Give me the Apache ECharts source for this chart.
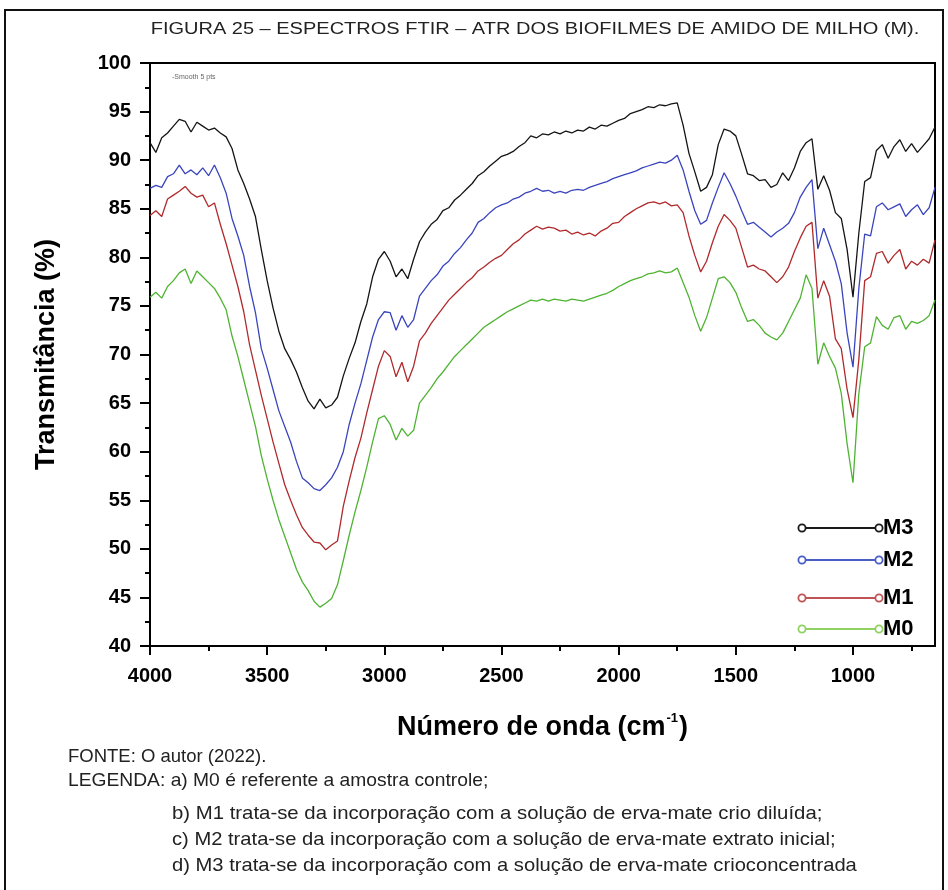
<!DOCTYPE html>
<html>
<head>
<meta charset="utf-8">
<script src="https://cdn.jsdelivr.net/npm/echarts@6/dist/echarts.min.js"></script>
<style>
  html, body { margin: 0; padding: 0; background: #fff; }
  #chart { width: 948px; height: 890px; }
</style>
</head>
<body>
<div id="chart"></div>
<script>
// FTIR-ATR spectra of corn-starch biofilms (transmittance, %)
const wavenumbers = [
  4000,3975,3950,3925,3900,3875,3850,3825,3800,3775,
  3750,3725,3700,3675,3650,3625,3600,3575,3550,3525,
  3500,3475,3450,3425,3400,3375,3350,3325,3300,3275,
  3250,3225,3200,3175,3150,3125,3100,3075,3050,3025,
  3000,2975,2950,2925,2900,2875,2850,2825,2800,2775,
  2750,2725,2700,2675,2650,2625,2600,2575,2550,2525,
  2500,2475,2450,2425,2400,2375,2350,2325,2300,2275,
  2250,2225,2200,2175,2150,2125,2100,2075,2050,2025,
  2000,1975,1950,1925,1900,1875,1850,1825,1800,1775,
  1750,1725,1700,1675,1650,1625,1600,1575,1550,1525,
  1500,1475,1450,1425,1400,1375,1350,1325,1300,1275,
  1250,1225,1200,1175,1150,1125,1100,1075,1050,1025,
  1000,975,950,925,900,875,850,825,800,775,
  750,725,700,675,650
];

const m3 = [
  91.8,90.8,92.3,92.8,93.5,94.2,94.0,92.9,93.9,93.5,
  93.1,93.3,92.8,92.4,91.2,89.0,87.6,86.0,84.2,80.8,
  77.6,74.8,72.4,70.6,69.5,68.2,66.6,65.2,64.4,65.4,
  64.5,64.8,65.6,67.8,69.6,71.2,73.4,75.2,78.0,79.8,
  80.6,79.6,78.0,78.8,77.8,79.8,81.6,82.6,83.4,83.9,
  84.8,85.1,85.9,86.4,87.0,87.6,88.4,88.8,89.4,89.9,
  90.4,90.6,90.9,91.4,91.8,92.5,92.3,92.7,92.6,92.9,
  92.7,93.0,92.8,93.1,93.0,93.4,93.2,93.6,93.5,93.8,
  94.1,94.3,94.8,95.0,95.2,95.5,95.4,95.7,95.6,95.8,
  95.9,93.6,90.7,88.8,86.8,87.2,88.5,91.6,93.2,93.0,
  92.5,90.6,88.6,88.4,87.9,88.0,87.2,87.5,88.7,87.9,
  89.2,90.9,91.8,92.2,87.0,88.4,86.9,84.6,84.0,80.8,
  75.9,82.5,87.8,88.2,91.0,91.6,90.2,91.4,92.1,90.9,
  91.7,90.8,91.5,92.2,93.4
];

const m2 = [
  87.1,87.4,87.2,88.3,88.6,89.5,88.6,89.0,88.5,89.2,
  88.4,89.5,88.2,86.6,84.0,82.2,80.2,77.0,74.3,70.6,
  68.6,66.4,64.2,62.6,61.0,59.0,57.3,56.8,56.2,56.0,
  56.6,57.3,58.4,60.0,62.8,65.0,67.0,69.4,71.8,73.6,
  74.4,74.3,72.5,74.0,72.8,73.6,76.0,76.8,77.6,78.2,
  79.1,79.6,80.4,81.0,81.8,82.5,83.6,84.0,84.6,85.1,
  85.4,85.6,86.0,86.2,86.6,86.8,87.1,86.8,86.9,86.6,
  86.8,86.6,86.9,87.0,86.9,87.2,87.4,87.6,87.8,88.1,
  88.3,88.5,88.7,88.9,89.2,89.4,89.6,89.8,89.7,90.0,
  90.5,89.0,86.8,84.8,83.4,83.8,85.6,87.2,88.7,87.6,
  86.3,84.8,83.4,83.6,83.1,82.6,82.1,82.6,83.0,83.5,
  84.6,86.2,87.2,88.0,80.9,83.0,81.3,79.6,77.3,72.2,
  68.7,76.8,82.4,82.2,85.2,85.6,84.9,85.2,85.5,84.2,
  84.9,85.4,84.4,85.1,87.2
];

const m1 = [
  84.3,84.8,84.2,86.0,86.4,86.8,87.3,86.6,86.2,86.4,
  85.2,85.6,83.4,81.4,79.2,77.0,74.4,71.0,68.4,65.8,
  63.4,61.0,58.8,56.6,55.0,53.5,52.2,51.4,50.7,50.6,
  49.9,50.4,50.8,54.4,57.0,59.4,61.4,64.0,66.4,68.8,
  70.4,69.8,67.7,69.2,67.2,68.8,71.4,72.2,73.2,74.0,
  74.8,75.6,76.2,76.8,77.4,77.9,78.6,79.0,79.5,79.9,
  80.2,80.8,81.4,81.8,82.4,82.8,83.2,82.9,83.1,83.0,
  82.7,82.8,82.4,82.6,82.3,82.5,82.2,82.7,83.0,83.5,
  83.6,84.2,84.6,85.0,85.3,85.6,85.7,85.5,85.7,85.3,
  85.4,84.6,82.2,80.2,78.5,79.6,81.5,83.2,84.4,83.8,
  83.0,81.0,79.0,79.2,78.8,78.6,78.0,77.4,78.0,79.0,
  80.6,82.0,83.2,83.6,75.8,77.6,76.0,71.6,70.6,66.4,
  63.5,69.5,77.6,78.0,80.4,80.6,79.4,80.2,80.8,78.8,
  79.6,79.2,79.8,79.4,81.8
];

const m0 = [
  75.9,76.4,75.8,77.0,77.6,78.4,78.8,77.3,78.6,78.0,
  77.4,76.8,75.8,74.6,71.9,69.8,67.4,65.0,62.6,59.6,
  57.2,55.0,53.0,51.3,49.6,47.9,46.6,45.7,44.6,44.0,
  44.4,44.9,46.3,48.8,51.4,53.8,56.0,58.4,61.0,63.4,
  63.7,62.8,61.2,62.4,61.6,62.2,65.0,65.8,66.6,67.5,
  68.2,69.0,69.8,70.4,71.0,71.6,72.2,72.8,73.2,73.6,
  74.0,74.4,74.7,75.0,75.3,75.6,75.5,75.7,75.5,75.7,
  75.6,75.5,75.7,75.6,75.5,75.7,75.9,76.1,76.3,76.6,
  77.0,77.3,77.6,77.8,78.0,78.3,78.4,78.6,78.4,78.5,
  78.9,77.4,75.9,74.0,72.4,73.8,75.8,77.8,78.0,77.4,
  76.4,74.8,73.4,73.6,73.0,72.2,71.8,71.5,72.2,73.4,
  74.6,75.8,78.2,76.8,69.0,71.2,69.8,68.6,66.0,60.8,
  56.8,66.0,70.8,71.2,73.9,73.0,72.6,73.8,74.0,72.6,
  73.4,73.2,73.5,74.0,75.6
];

const seriesNames = ['M3', 'M2', 'M1', 'M0'];
const seriesValues = [m3, m2, m1, m0];
const seriesColors = ['#141414', '#3a45bd', '#b02a2c', '#4fb332'];
const legendColors = ['#1a1a1a', '#4a5ec8', '#c05454', '#8fd262'];

const xMajorTicks = [4000, 3500, 3000, 2500, 2000, 1500, 1000];
const xMinorTicks = [3750, 3250, 2750, 2250, 1750, 1250, 750];

const titleText = 'FIGURA 25 – ESPECTROS FTIR – ATR DOS BIOFILMES DE AMIDO DE MILHO (M).';
const noteLines = [
  'FONTE: O autor (2022).',
  'LEGENDA: a) M0 é referente a amostra controle;',
  'b) M1 trata-se da incorporação com a solução de erva-mate crio diluída;',
  'c) M2 trata-se da incorporação com a solução de erva-mate extrato inicial;',
  'd) M3 trata-se da incorporação com a solução de erva-mate crioconcentrada'
];

const FONT = '"Liberation Sans", Arial, Helvetica, sans-serif';

const chart = echarts.init(document.getElementById('chart'), null, { renderer: 'canvas' });

const series = seriesNames.map((name, i) => ({
  name: name,
  type: 'line',
  xAxisIndex: 0,
  yAxisIndex: 0,
  data: wavenumbers.map((w, k) => [w, seriesValues[i][k]]),
  showSymbol: false,
  symbol: 'none',
  smooth: false,
  silent: true,
  z: 10 - i,
  lineStyle: { color: seriesColors[i], width: 1.3 },
  itemStyle: { color: seriesColors[i] }
}));

// Legend block: a line with hollow circles at both ends, then the label
const legendRows = [528, 560, 598, 629];
const legendGraphics = [];
seriesNames.forEach((name, i) => {
  const y = legendRows[i];
  const c = legendColors[i];
  legendGraphics.push(
    { type: 'line', silent: true, z: 50,
      shape: { x1: 802, y1: y, x2: 879, y2: y },
      style: { stroke: c, lineWidth: 1.8 } },
    { type: 'circle', silent: true, z: 51,
      shape: { cx: 802, cy: y, r: 3.6 },
      style: { fill: '#fff', stroke: c, lineWidth: 1.8 } },
    { type: 'circle', silent: true, z: 51,
      shape: { cx: 879, cy: y, r: 3.6 },
      style: { fill: '#fff', stroke: c, lineWidth: 1.8 } },
    { type: 'text', silent: true, z: 51, x: 883, y: y,
      style: { text: name, fill: '#000', font: 'bold 22px ' + FONT,
               textAlign: 'left', textVerticalAlign: 'middle' } }
  );
});

// Caption lines below the plot (slightly widened type, as in the printed figure)
const noteX = [68, 68, 172, 172, 172];
const noteY = [757, 781, 814, 840, 866];
const noteStretch = [1.0, 1.04, 1.1, 1.09, 1.09];
const noteGraphics = noteLines.map((t, i) => ({
  type: 'text', silent: true,
  x: noteX[i], y: noteY[i], scaleX: noteStretch[i],
  style: { text: t, fill: '#222', font: '18.5px ' + FONT,
           textAlign: 'left', textVerticalAlign: 'middle' }
}));

const option = {
  backgroundColor: '#fff',
  animation: false,
  grid: {
    left: 150, right: 13, top: 63, bottom: 244,
    show: true, borderColor: '#000', borderWidth: 2, backgroundColor: 'transparent'
  },
  xAxis: [
    {
      type: 'value', min: 650, max: 4000, inverse: true, position: 'bottom',
      axisLine: { show: true, onZero: false, lineStyle: { color: '#000', width: 2 } },
      axisTick: { show: true, inside: false, length: 9, customValues: xMajorTicks,
                  lineStyle: { color: '#000', width: 2 } },
      axisLabel: { show: true, customValues: xMajorTicks, margin: 20,
                   formatter: (v) => String(v),
                   color: '#000', fontFamily: FONT, fontWeight: 'bold', fontSize: 20 },
      splitLine: { show: false },
      name: '{a|Número de onda (cm}{s|-1}{a|)}',
      nameLocation: 'middle',
      nameGap: 66,
      nameTextStyle: {
        rich: {
          a: { fontFamily: FONT, fontWeight: 'bold', fontSize: 27, color: '#000', lineHeight: 32 },
          s: { fontFamily: FONT, fontWeight: 'bold', fontSize: 13, color: '#000',
               lineHeight: 32, verticalAlign: 'top', padding: [0, 1, 0, 1] }
        }
      }
    },
    {
      type: 'value', min: 650, max: 4000, inverse: true, position: 'bottom',
      axisLine: { show: false, onZero: false },
      axisTick: { show: true, inside: false, length: 5, customValues: xMinorTicks,
                  lineStyle: { color: '#000', width: 2 } },
      axisLabel: { show: false },
      splitLine: { show: false }
    }
  ],
  yAxis: {
    type: 'value', min: 40, max: 100, interval: 5,
    axisLine: { show: true, onZero: false, lineStyle: { color: '#000', width: 2 } },
    axisTick: { show: true, inside: false, length: 10, lineStyle: { color: '#000', width: 2 } },
    minorTick: { show: true, splitNumber: 2, length: 5, lineStyle: { color: '#000', width: 2 } },
    splitLine: { show: false },
    minorSplitLine: { show: false },
    axisLabel: { margin: 19, color: '#000', fontFamily: FONT, fontWeight: 'bold', fontSize: 20 },
    name: 'Transmitância (%)',
    nameLocation: 'middle',
    nameGap: 90,
    nameTextStyle: { fontFamily: FONT, fontWeight: 'bold', fontSize: 27, color: '#000' }
  },
  series: series,
  graphic: [
    { type: 'rect', silent: true, z: 100,
      shape: { x: 5, y: 10, width: 938, height: 900 },
      style: { fill: 'none', stroke: '#111', lineWidth: 2 } },
    { type: 'text', silent: true, x: 535, y: 30, scaleX: 1.25,
      style: { text: titleText, fill: '#222', font: '16px ' + FONT,
               textAlign: 'center', textVerticalAlign: 'middle' } },
    { type: 'text', silent: true, x: 172, y: 77,
      style: { text: '-Smooth 5 pts', fill: '#666', font: '7px ' + FONT,
               textAlign: 'left', textVerticalAlign: 'middle' } }
  ].concat(legendGraphics, noteGraphics)
};

chart.setOption(option);
</script>
</body>
</html>
